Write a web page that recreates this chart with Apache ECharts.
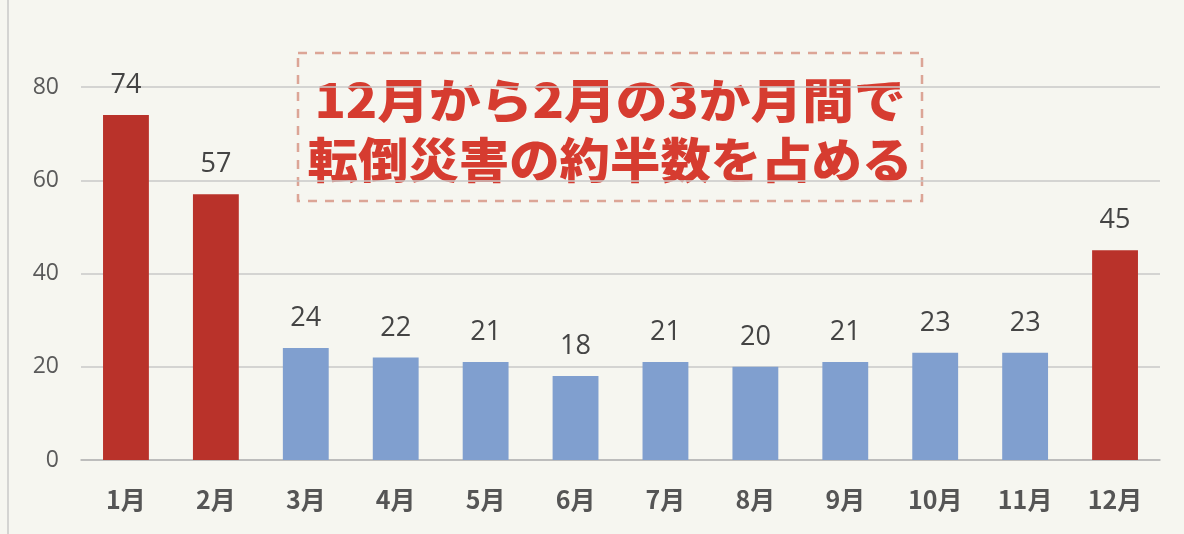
<!DOCTYPE html>
<html><head><meta charset="utf-8">
<script src="https://cdn.jsdelivr.net/npm/echarts@6/dist/echarts.min.js"></script>
<style>html,body{margin:0;padding:0;background:#f6f6f0;}#c{width:1184px;height:534px;}</style>
</head><body><div id="c"></div>
<script>
const categories = ['1月','2月','3月','4月','5月','6月','7月','8月','9月','10月','11月','12月'];
const values = [74,57,24,22,21,18,21,20,21,23,23,45];
const highlighted = [true,true,false,false,false,false,false,false,false,false,false,true];
const yTicks = [0,20,40,60,80];
const noteLines = ['12月から2月の3か月間で','転倒災害の約半数を占める'];

const RED = '#b9322a', BLUE = '#809fcf';
const chart = echarts.init(document.getElementById('c'));
chart.setOption({
  backgroundColor: '#f6f6f0',
  animation: false,
  grid: {left: 81, right: 24, top: 87, bottom: 74},
  xAxis: {
    type: 'category', data: categories,
    axisLine: {lineStyle: {color: '#b5b5b5', width: 1.5}},
    axisTick: {show: false},
    axisLabel: {color: '#555', fontSize: 25, fontWeight: 'bold', margin: 27,
      fontFamily: '"Noto Sans CJK JP", sans-serif'}
  },
  yAxis: {
    type: 'value', min: yTicks[0], max: yTicks[yTicks.length-1], interval: 20,
    axisLine: {show: false}, axisTick: {show: false},
    splitLine: {lineStyle: {color: '#c9c9c9', width: 1.5}},
    axisLabel: {color: '#5a5a5a', fontSize: 23, margin: 22, fontFamily: '"Open Sans", sans-serif'}
  },
  series: [{
    type: 'bar', barWidth: '51%',
    data: values.map((v,i)=>({value: v, itemStyle: {color: highlighted[i] ? RED : BLUE}})),
    label: {show: true, position: 'top', distance: 16, color: '#444', fontSize: 27,
      fontFamily: '"Open Sans", sans-serif'}
  }],
  graphic: [
    {type: 'line', shape: {x1: 8, y1: 0, x2: 8, y2: 534}, style: {stroke: '#c8c8c8', lineWidth: 1.5}, silent: true},
    {type: 'rect', shape: {x: 298, y: 53, width: 624, height: 148},
      style: {fill: '#f6f6f0', stroke: '#dca596', lineWidth: 2.5, lineDash: [9, 8]}},
    {type: 'text', x: 610, y: 100, scaleX: 1.1, style: {text: noteLines[0], align: 'center', verticalAlign: 'middle',
      fill: '#d63c30', font: '900 47px "Noto Sans CJK JP", sans-serif'}},
    {type: 'text', x: 610, y: 160, scaleX: 1.05, style: {text: noteLines[1], align: 'center', verticalAlign: 'middle',
      fill: '#d63c30', font: '900 48px "Noto Sans CJK JP", sans-serif'}}
  ]
});
</script></body></html>
